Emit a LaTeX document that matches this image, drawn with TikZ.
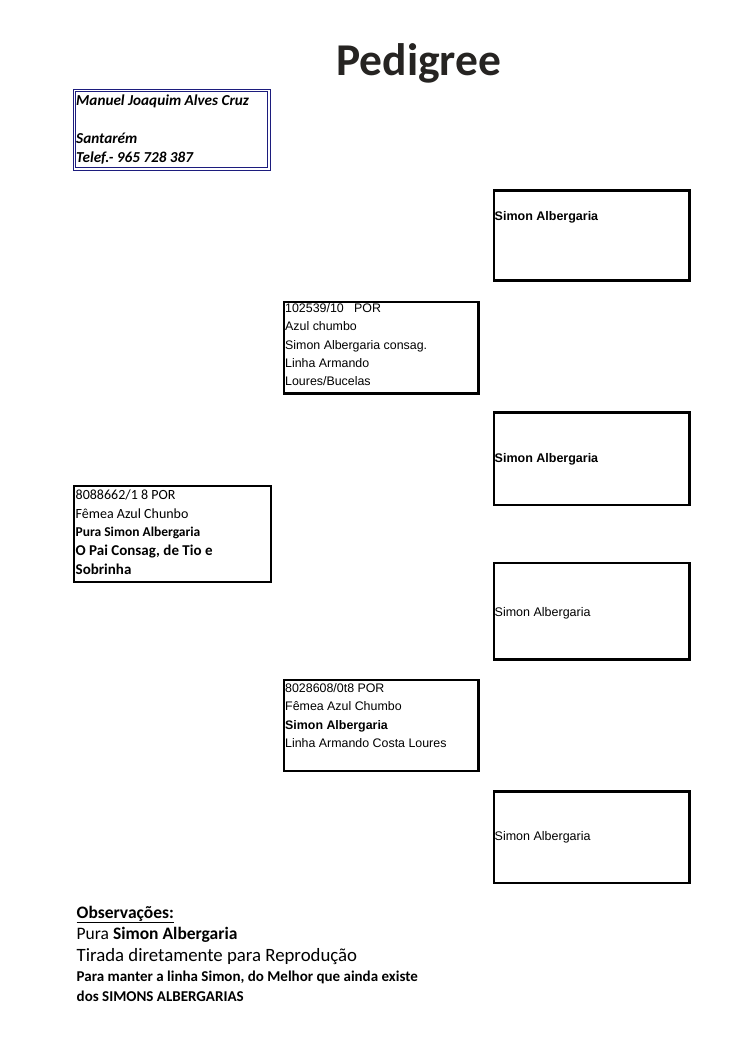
\documentclass[tikz,border=0pt]{standalone}
\usepackage{fontspec}
\setmainfont{Carlito}
\newfontfamily\arialfont{Liberation Sans}
\definecolor{ownerblue}{RGB}{28,28,125}
\definecolor{titlegray}{RGB}{38,36,34}
\newcommand{\firstline}{\rule{0pt}{0.9em}}

\begin{document}
\begin{tikzpicture}
    [
        x=1pt, y=-1pt,
        cellbox/.style = {draw, shape=rectangle, anchor=north west, inner sep=0pt, line width=2.6pt},
        ownerbox/.style = {draw=ownerblue, shape=rectangle, anchor=north west, inner sep=0pt, line width=1pt, double, double distance=1.2pt},
        arialtext/.style = {anchor=north west, inner sep=0pt, align=left, font=\arialfont\fontsize{12.4}{18.3}\selectfont},
        caltext/.style = {anchor=north west, inner sep=0pt, align=left, font=\fontsize{14}{18.8}\selectfont},
        gptext/.style = {anchor=base west, inner sep=0pt, font=\arialfont\fontsize{12.5}{15}\selectfont},
        obstext/.style = {anchor=base west, inner sep=0pt},
    ]

    \useasboundingbox (0,0) rectangle (750,1061);

    \node[anchor=base west, inner sep=0pt, text=titlegray, font=\bfseries\fontsize{45.5}{50}\selectfont] (title) at (336,75.5) {Pedigree};

    % owner
    \node[ownerbox, minimum width=194.8pt, minimum height=78.8pt] (owner) at (73.6,89.6) {};
    \node[anchor=north west, inner sep=0pt, align=left, font=\bfseries\itshape\fontsize{15.2}{19.2}\selectfont] (ownertxt) at (76,91.5)
        {\firstline Manuel Joaquim Alves Cruz\\ \mbox{}\\ Santarém\\ Telef.- 965 728 387};

    % bird
    \node[cellbox, line width=2.2pt, minimum width=196.9pt, minimum height=96pt] (bird) at (72.8,485) {};
    \node[caltext] (birdtxt) at (75.5,486.4)
        {\firstline 8088662/1 8 POR\\
         Fêmea Azul Chunbo\\
         {\bfseries\fontsize{13.5}{18.8}\selectfont Pura Simon Albergaria}\\
         {\bfseries\fontsize{15}{18.8}\selectfont O Pai Consag, de Tio e}\\
         {\bfseries\fontsize{15}{18.8}\selectfont Sobrinha}};

    % parents
    \node[cellbox, minimum width=194.4pt, minimum height=91.8pt] (sire) at (282.6,300.5) {};
    \node[arialtext] (siretxt) at (285,301.2)
        {\firstline 102539/10\ \ \ POR\\ Azul chumbo\\ Simon Albergaria consag.\\ Linha Armando\\ Loures/Bucelas};

    \node[cellbox, minimum width=194.4pt, minimum height=91.1pt] (dam) at (282.6,678.7) {};
    \node[arialtext] (damtxt) at (285,681.2)
        {\firstline 8028608/0t8 POR\\ Fêmea Azul Chumbo\\ {\bfseries Simon Albergaria}\\ Linha Armando Costa Loures};

    % grandparents
    \node[cellbox, minimum width=195.8pt, minimum height=90.3pt] (ss) at (492.5,189) {};
    \node[gptext] (sstxt) at (494.5,220.7) {\bfseries Simon Albergaria};

    \node[cellbox, minimum width=195.8pt, minimum height=92.6pt] (sd) at (492.5,411.2) {};
    \node[gptext] (sdtxt) at (494.5,462.5) {\bfseries Simon Albergaria};

    \node[cellbox, minimum width=195.8pt, minimum height=96.6pt] (ds) at (492.5,561.7) {};
    \node[gptext] (dstxt) at (494.5,616.7) {Simon Albergaria};

    \node[cellbox, minimum width=195.8pt, minimum height=91.6pt] (dd) at (492.5,790.2) {};
    \node[gptext] (ddtxt) at (494.5,840.5) {Simon Albergaria};

    % observacoes
    \node[obstext, font=\bfseries\fontsize{17.5}{21}\selectfont] (obs) at (76.5,918) {\underline{Observações:}};
    \node[obstext, font=\fontsize{17.5}{21}\selectfont] (obs1) at (76.5,939) {Pura \textbf{Simon Albergaria}};
    \node[obstext, font=\fontsize{18.8}{22}\selectfont] (obs2) at (76.5,961.7) {Tirada diretamente para Reprodução};
    \node[obstext, font=\bfseries\fontsize{15}{18}\selectfont] (obs3) at (76.5,981.7) {Para manter a linha Simon, do Melhor que ainda existe};
    \node[obstext, font=\bfseries\fontsize{15}{18}\selectfont] (obs4) at (76.5,1001) {dos SIMONS ALBERGARIAS};

\end{tikzpicture}
\end{document}
